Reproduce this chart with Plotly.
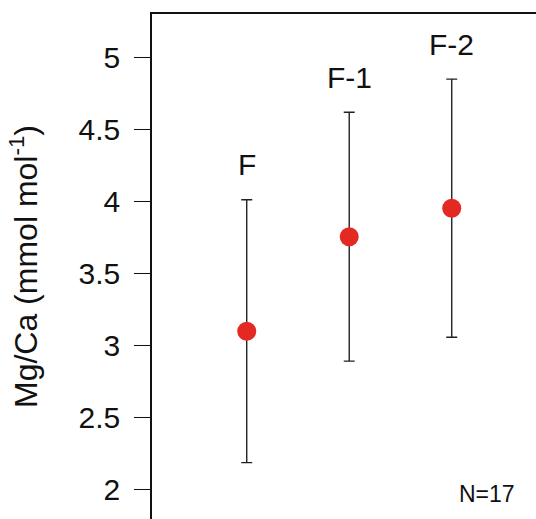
import plotly.graph_objects as go

# Data
categories = ["F", "F-1", "F-2"]
x_pos = [1, 2, 3]
mg_ca_mean = [3.10, 3.755, 3.953]
mg_ca_err = [0.912, 0.863, 0.895]
y_tick_vals = [2, 2.5, 3, 3.5, 4, 4.5, 5]
y_tick_text = ["2", "2.5", "3", "3.5", "4", "4.5", "5"]
n_label = "N=17"

FONT = "Liberation Sans, Arial, Helvetica, sans-serif"

fig = go.Figure()
fig.add_trace(go.Scatter(
    x=x_pos, y=mg_ca_mean,
    mode="markers",
    marker=dict(color="#e42922", size=19, line=dict(width=0)),
    error_y=dict(type="data", array=mg_ca_err, visible=True,
                 color="#222222", thickness=1.4, width=5.5),
    showlegend=False,
    hoverinfo="x+y",
))

for xi, cat, m, e in zip(x_pos, categories, mg_ca_mean, mg_ca_err):
    fig.add_annotation(x=xi, y=m + e, text=cat, showarrow=False,
                       xref="x", yref="y", yanchor="middle", yshift=35,
                       font=dict(family=FONT, size=30, color="#111111"))

fig.add_annotation(x=0.95, y=0.05, xref="paper", yref="paper",
                   text=n_label, showarrow=False, xanchor="right", yanchor="middle",
                   font=dict(family=FONT, size=23, color="#111111"))

fig.update_layout(
    width=536, height=519,
    margin=dict(l=152, r=0, t=14, b=0),
    paper_bgcolor="white", plot_bgcolor="white",
    font=dict(family=FONT, color="#111111"),
    xaxis=dict(range=[0.076, 3.822], side="top", showline=True, linecolor="#111111",
               linewidth=1.5, showticklabels=False, ticks="", showgrid=False,
               zeroline=False, mirror=False),
    yaxis=dict(range=[1.797, 5.30], tickvals=y_tick_vals, ticktext=y_tick_text,
               showline=True, linecolor="#111111", linewidth=1.5,
               ticks="outside", ticklen=16, tickwidth=1.3, tickcolor="#111111",
               tickfont=dict(family=FONT, size=30, color="#111111"),
               ticklabelstandoff=8,
               showgrid=False, zeroline=False,
               title=dict(text="Mg/Ca (mmol mol<sup>-1</sup>)",
                          font=dict(family=FONT, size=32, color="#111111"),
                          standoff=31)),
)

fig.write_html("out.html")
